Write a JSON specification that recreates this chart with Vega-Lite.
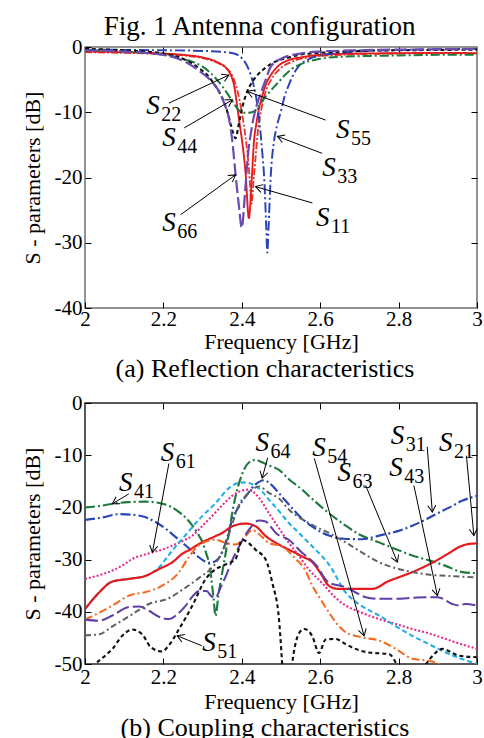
{
"$schema": "https://vega.github.io/schema/vega-lite/v6.json",
"background": "white",
"padding": {"left": 20, "top": 13, "right": 0, "bottom": 0},
"title": {"text": "Fig. 1   Antenna configuration", "fontSize": 27, "font": "Liberation Serif", "fontWeight": "normal", "color": "black", "anchor": "middle", "dx": 8, "offset": -6},
"spacing": 8,
"resolve": {"scale": {"x": "independent", "y": "independent", "color": "independent", "strokeDash": "independent", "strokeWidth": "independent"}},
"datasets": {
"refl": [
{"s":"S11","f":2.0,"db":-0.8},{"s":"S11","f":2.1,"db":-0.9},{"s":"S11","f":2.2,"db":-1.1},{"s":"S11","f":2.25,"db":-1.3},{"s":"S11","f":2.3,"db":-1.7},{"s":"S11","f":2.34,"db":-2.5},{"s":"S11","f":2.36,"db":-3.2},{"s":"S11","f":2.372,"db":-4.0},{"s":"S11","f":2.38,"db":-5.0},{"s":"S11","f":2.39,"db":-7.0},{"s":"S11","f":2.4,"db":-10.0},{"s":"S11","f":2.41,"db":-14.0},{"s":"S11","f":2.418,"db":-18.5},{"s":"S11","f":2.425,"db":-24.0},{"s":"S11","f":2.43,"db":-20.5},{"s":"S11","f":2.435,"db":-17.0},{"s":"S11","f":2.44,"db":-13.5},{"s":"S11","f":2.45,"db":-9.5},{"s":"S11","f":2.46,"db":-7.0},{"s":"S11","f":2.475,"db":-5.0},{"s":"S11","f":2.5,"db":-3.2},{"s":"S11","f":2.53,"db":-2.2},{"s":"S11","f":2.56,"db":-1.7},{"s":"S11","f":2.6,"db":-1.4},{"s":"S11","f":2.7,"db":-1.1},{"s":"S11","f":2.8,"db":-1.0},{"s":"S11","f":2.9,"db":-0.95},{"s":"S11","f":3.0,"db":-1.0},
{"s":"S22","f":2.0,"db":-0.7},{"s":"S22","f":2.1,"db":-0.8},{"s":"S22","f":2.2,"db":-1.0},{"s":"S22","f":2.25,"db":-1.2},{"s":"S22","f":2.3,"db":-1.6},{"s":"S22","f":2.34,"db":-2.4},{"s":"S22","f":2.36,"db":-3.2},{"s":"S22","f":2.372,"db":-4.3},{"s":"S22","f":2.38,"db":-5.8},{"s":"S22","f":2.389,"db":-9.4},{"s":"S22","f":2.395,"db":-12.0},{"s":"S22","f":2.401,"db":-14.5},{"s":"S22","f":2.41,"db":-19.6},{"s":"S22","f":2.418,"db":-26.2},{"s":"S22","f":2.426,"db":-19.6},{"s":"S22","f":2.431,"db":-14.5},{"s":"S22","f":2.437,"db":-11.8},{"s":"S22","f":2.444,"db":-9.4},{"s":"S22","f":2.452,"db":-7.5},{"s":"S22","f":2.461,"db":-5.8},{"s":"S22","f":2.475,"db":-4.2},{"s":"S22","f":2.495,"db":-2.8},{"s":"S22","f":2.52,"db":-2.0},{"s":"S22","f":2.55,"db":-1.6},{"s":"S22","f":2.6,"db":-1.2},{"s":"S22","f":2.7,"db":-1.0},{"s":"S22","f":2.8,"db":-0.95},{"s":"S22","f":2.9,"db":-0.9},{"s":"S22","f":3.0,"db":-0.95},
{"s":"S33","f":2.0,"db":-0.4},{"s":"S33","f":2.1,"db":-0.45},{"s":"S33","f":2.2,"db":-0.5},{"s":"S33","f":2.3,"db":-0.6},{"s":"S33","f":2.35,"db":-0.75},{"s":"S33","f":2.38,"db":-1.0},{"s":"S33","f":2.4,"db":-1.7},{"s":"S33","f":2.41,"db":-2.5},{"s":"S33","f":2.418,"db":-3.5},{"s":"S33","f":2.43,"db":-5.8},{"s":"S33","f":2.44,"db":-9.0},{"s":"S33","f":2.446,"db":-12.0},{"s":"S33","f":2.452,"db":-16.0},{"s":"S33","f":2.458,"db":-21.0},{"s":"S33","f":2.462,"db":-27.0},{"s":"S33","f":2.465,"db":-31.5},{"s":"S33","f":2.468,"db":-28.0},{"s":"S33","f":2.474,"db":-19.6},{"s":"S33","f":2.482,"db":-14.5},{"s":"S33","f":2.49,"db":-12.0},{"s":"S33","f":2.5,"db":-9.8},{"s":"S33","f":2.508,"db":-7.8},{"s":"S33","f":2.52,"db":-5.8},{"s":"S33","f":2.53,"db":-4.4},{"s":"S33","f":2.546,"db":-2.9},{"s":"S33","f":2.57,"db":-1.9},{"s":"S33","f":2.6,"db":-1.3},{"s":"S33","f":2.65,"db":-0.9},{"s":"S33","f":2.7,"db":-0.65},{"s":"S33","f":2.8,"db":-0.45},{"s":"S33","f":2.9,"db":-0.35},{"s":"S33","f":3.0,"db":-0.3},
{"s":"S44","f":2.0,"db":-0.5},{"s":"S44","f":2.1,"db":-0.7},{"s":"S44","f":2.2,"db":-1.2},{"s":"S44","f":2.25,"db":-1.8},{"s":"S44","f":2.28,"db":-2.4},{"s":"S44","f":2.3,"db":-3.0},{"s":"S44","f":2.316,"db":-3.75},{"s":"S44","f":2.335,"db":-4.9},{"s":"S44","f":2.35,"db":-6.0},{"s":"S44","f":2.365,"db":-7.3},{"s":"S44","f":2.376,"db":-8.3},{"s":"S44","f":2.388,"db":-9.4},{"s":"S44","f":2.4,"db":-10.0},{"s":"S44","f":2.413,"db":-10.1},{"s":"S44","f":2.426,"db":-10.0},{"s":"S44","f":2.44,"db":-9.4},{"s":"S44","f":2.452,"db":-8.3},{"s":"S44","f":2.475,"db":-6.6},{"s":"S44","f":2.495,"db":-5.3},{"s":"S44","f":2.51,"db":-4.3},{"s":"S44","f":2.529,"db":-3.3},{"s":"S44","f":2.56,"db":-2.4},{"s":"S44","f":2.6,"db":-1.8},{"s":"S44","f":2.65,"db":-1.5},{"s":"S44","f":2.7,"db":-1.4},{"s":"S44","f":2.8,"db":-1.3},{"s":"S44","f":2.9,"db":-1.2},{"s":"S44","f":3.0,"db":-1.2},
{"s":"S55","f":2.0,"db":-0.3},{"s":"S55","f":2.1,"db":-0.5},{"s":"S55","f":2.2,"db":-1.0},{"s":"S55","f":2.257,"db":-2.0},{"s":"S55","f":2.29,"db":-3.2},{"s":"S55","f":2.315,"db":-4.5},{"s":"S55","f":2.333,"db":-6.0},{"s":"S55","f":2.345,"db":-7.2},{"s":"S55","f":2.355,"db":-8.5},{"s":"S55","f":2.365,"db":-10.3},{"s":"S55","f":2.372,"db":-11.9},{"s":"S55","f":2.378,"db":-13.2},{"s":"S55","f":2.384,"db":-14.0},{"s":"S55","f":2.39,"db":-12.6},{"s":"S55","f":2.397,"db":-10.4},{"s":"S55","f":2.405,"db":-8.4},{"s":"S55","f":2.414,"db":-6.8},{"s":"S55","f":2.425,"db":-5.5},{"s":"S55","f":2.44,"db":-4.3},{"s":"S55","f":2.46,"db":-3.2},{"s":"S55","f":2.487,"db":-2.2},{"s":"S55","f":2.52,"db":-1.6},{"s":"S55","f":2.546,"db":-1.2},{"s":"S55","f":2.6,"db":-0.9},{"s":"S55","f":2.7,"db":-0.6},{"s":"S55","f":2.8,"db":-0.5},{"s":"S55","f":2.9,"db":-0.45},{"s":"S55","f":3.0,"db":-0.4},
{"s":"S66","f":2.0,"db":-0.5},{"s":"S66","f":2.1,"db":-0.7},{"s":"S66","f":2.2,"db":-1.2},{"s":"S66","f":2.257,"db":-2.3},{"s":"S66","f":2.29,"db":-3.6},{"s":"S66","f":2.315,"db":-4.8},{"s":"S66","f":2.333,"db":-6.0},{"s":"S66","f":2.342,"db":-6.8},{"s":"S66","f":2.355,"db":-8.6},{"s":"S66","f":2.367,"db":-10.9},{"s":"S66","f":2.376,"db":-14.5},{"s":"S66","f":2.384,"db":-19.5},{"s":"S66","f":2.392,"db":-24.0},{"s":"S66","f":2.4,"db":-27.7},{"s":"S66","f":2.408,"db":-22.5},{"s":"S66","f":2.415,"db":-17.0},{"s":"S66","f":2.425,"db":-12.5},{"s":"S66","f":2.44,"db":-8.5},{"s":"S66","f":2.45,"db":-6.8},{"s":"S66","f":2.461,"db":-5.0},{"s":"S66","f":2.474,"db":-3.0},{"s":"S66","f":2.5,"db":-1.8},{"s":"S66","f":2.55,"db":-1.0},{"s":"S66","f":2.6,"db":-0.7},{"s":"S66","f":2.7,"db":-0.5},{"s":"S66","f":2.8,"db":-0.4},{"s":"S66","f":2.9,"db":-0.35},{"s":"S66","f":3.0,"db":-0.3}
],
"reflLab": [
{"sym":"S","sub":"22","lx":2.156,"ly":-10.2,"tx":2.214,"ty":-8.6,"hx":2.367,"hy":-4.3},
{"sym":"S","sub":"44","lx":2.197,"ly":-15.2,"tx":2.253,"ty":-12.4,"hx":2.376,"hy":-8.1},
{"sym":"S","sub":"66","lx":2.197,"ly":-28.2,"tx":2.244,"ty":-25.7,"hx":2.384,"hy":-19.6},
{"sym":"S","sub":"11","lx":2.589,"ly":-27.5,"tx":2.58,"ty":-23.9,"hx":2.435,"hy":-21.4},
{"sym":"S","sub":"33","lx":2.605,"ly":-19.8,"tx":2.605,"ty":-16.3,"hx":2.491,"hy":-13.7},
{"sym":"S","sub":"55","lx":2.64,"ly":-14.0,"tx":2.614,"ty":-11.2,"hx":2.414,"hy":-6.8}
],
"coup": [
{"s":"S41","f":2.0,"db":-20.0},{"s":"S41","f":2.04,"db":-19.7},{"s":"S41","f":2.07,"db":-19.3},{"s":"S41","f":2.11,"db":-19.0},{"s":"S41","f":2.155,"db":-18.9},{"s":"S41","f":2.197,"db":-19.3},{"s":"S41","f":2.22,"db":-19.9},{"s":"S41","f":2.24,"db":-20.9},{"s":"S41","f":2.26,"db":-22.2},{"s":"S41","f":2.274,"db":-23.5},{"s":"S41","f":2.29,"db":-25.3},{"s":"S41","f":2.3,"db":-26.7},{"s":"S41","f":2.31,"db":-29.0},{"s":"S41","f":2.316,"db":-30.5},{"s":"S41","f":2.322,"db":-33.5},{"s":"S41","f":2.328,"db":-37.5},{"s":"S41","f":2.333,"db":-40.8},{"s":"S41","f":2.34,"db":-37.0},{"s":"S41","f":2.35,"db":-32.5},{"s":"S41","f":2.359,"db":-28.7},{"s":"S41","f":2.37,"db":-23.5},{"s":"S41","f":2.384,"db":-17.9},{"s":"S41","f":2.4,"db":-13.8},{"s":"S41","f":2.418,"db":-11.4},{"s":"S41","f":2.435,"db":-10.9},{"s":"S41","f":2.45,"db":-11.3},{"s":"S41","f":2.47,"db":-12.0},{"s":"S41","f":2.495,"db":-12.8},{"s":"S41","f":2.52,"db":-14.6},{"s":"S41","f":2.554,"db":-16.6},{"s":"S41","f":2.58,"db":-18.4},{"s":"S41","f":2.622,"db":-21.1},{"s":"S41","f":2.665,"db":-23.5},{"s":"S41","f":2.7,"db":-25.2},{"s":"S41","f":2.75,"db":-26.7},{"s":"S41","f":2.8,"db":-28.2},{"s":"S41","f":2.835,"db":-29.2},{"s":"S41","f":2.88,"db":-30.2},{"s":"S41","f":2.92,"db":-31.2},{"s":"S41","f":2.963,"db":-32.4},{"s":"S41","f":3.0,"db":-32.6},
{"s":"S31","f":2.0,"db":-22.4},{"s":"S31","f":2.04,"db":-22.0},{"s":"S31","f":2.087,"db":-21.3},{"s":"S31","f":2.12,"db":-21.4},{"s":"S31","f":2.155,"db":-21.9},{"s":"S31","f":2.18,"db":-22.8},{"s":"S31","f":2.206,"db":-24.1},{"s":"S31","f":2.23,"db":-25.6},{"s":"S31","f":2.257,"db":-27.3},{"s":"S31","f":2.275,"db":-28.5},{"s":"S31","f":2.291,"db":-29.6},{"s":"S31","f":2.305,"db":-30.3},{"s":"S31","f":2.32,"db":-30.6},{"s":"S31","f":2.333,"db":-30.3},{"s":"S31","f":2.346,"db":-29.2},{"s":"S31","f":2.36,"db":-26.5},{"s":"S31","f":2.376,"db":-22.3},{"s":"S31","f":2.393,"db":-19.8},{"s":"S31","f":2.41,"db":-17.9},{"s":"S31","f":2.435,"db":-15.6},{"s":"S31","f":2.457,"db":-14.8},{"s":"S31","f":2.47,"db":-15.3},{"s":"S31","f":2.487,"db":-16.6},{"s":"S31","f":2.51,"db":-18.6},{"s":"S31","f":2.529,"db":-20.2},{"s":"S31","f":2.546,"db":-21.6},{"s":"S31","f":2.58,"db":-23.7},{"s":"S31","f":2.622,"db":-25.4},{"s":"S31","f":2.66,"db":-26.0},{"s":"S31","f":2.707,"db":-26.1},{"s":"S31","f":2.75,"db":-25.4},{"s":"S31","f":2.8,"db":-24.5},{"s":"S31","f":2.835,"db":-23.5},{"s":"S31","f":2.87,"db":-22.3},{"s":"S31","f":2.895,"db":-21.3},{"s":"S31","f":2.93,"db":-20.0},{"s":"S31","f":2.963,"db":-18.7},{"s":"S31","f":3.0,"db":-17.8},
{"s":"S61","f":2.0,"db":-33.7},{"s":"S61","f":2.04,"db":-32.9},{"s":"S61","f":2.07,"db":-32.1},{"s":"S61","f":2.1,"db":-30.9},{"s":"S61","f":2.12,"db":-29.9},{"s":"S61","f":2.145,"db":-29.2},{"s":"S61","f":2.172,"db":-28.6},{"s":"S61","f":2.2,"db":-28.0},{"s":"S61","f":2.223,"db":-27.3},{"s":"S61","f":2.25,"db":-26.4},{"s":"S61","f":2.274,"db":-25.4},{"s":"S61","f":2.3,"db":-23.5},{"s":"S61","f":2.325,"db":-21.6},{"s":"S61","f":2.35,"db":-19.6},{"s":"S61","f":2.375,"db":-17.8},{"s":"S61","f":2.4,"db":-16.8},{"s":"S61","f":2.418,"db":-16.6},{"s":"S61","f":2.44,"db":-17.8},{"s":"S61","f":2.469,"db":-21.1},{"s":"S61","f":2.495,"db":-24.0},{"s":"S61","f":2.52,"db":-26.8},{"s":"S61","f":2.545,"db":-29.2},{"s":"S61","f":2.571,"db":-31.9},{"s":"S61","f":2.605,"db":-34.5},{"s":"S61","f":2.635,"db":-37.0},{"s":"S61","f":2.665,"db":-38.8},{"s":"S61","f":2.7,"db":-40.0},{"s":"S61","f":2.75,"db":-41.4},{"s":"S61","f":2.8,"db":-42.5},{"s":"S61","f":2.835,"db":-43.3},{"s":"S61","f":2.88,"db":-44.2},{"s":"S61","f":2.92,"db":-45.2},{"s":"S61","f":2.96,"db":-46.2},{"s":"S61","f":3.0,"db":-47.1},
{"s":"S64","f":2.0,"db":-39.5},{"s":"S64","f":2.036,"db":-36.3},{"s":"S64","f":2.07,"db":-34.2},{"s":"S64","f":2.112,"db":-33.7},{"s":"S64","f":2.155,"db":-33.1},{"s":"S64","f":2.189,"db":-31.5},{"s":"S64","f":2.21,"db":-29.5},{"s":"S64","f":2.231,"db":-27.5},{"s":"S64","f":2.26,"db":-25.0},{"s":"S64","f":2.291,"db":-22.3},{"s":"S64","f":2.333,"db":-19.2},{"s":"S64","f":2.367,"db":-16.3},{"s":"S64","f":2.393,"db":-15.3},{"s":"S64","f":2.41,"db":-15.2},{"s":"S64","f":2.427,"db":-15.6},{"s":"S64","f":2.45,"db":-16.8},{"s":"S64","f":2.469,"db":-18.5},{"s":"S64","f":2.495,"db":-20.7},{"s":"S64","f":2.52,"db":-23.0},{"s":"S64","f":2.546,"db":-24.9},{"s":"S64","f":2.571,"db":-26.8},{"s":"S64","f":2.6,"db":-29.0},{"s":"S64","f":2.622,"db":-30.9},{"s":"S64","f":2.665,"db":-36.3},{"s":"S64","f":2.7,"db":-38.6},{"s":"S64","f":2.75,"db":-40.7},{"s":"S64","f":2.8,"db":-43.1},{"s":"S64","f":2.835,"db":-44.6},{"s":"S64","f":2.88,"db":-46.3},{"s":"S64","f":2.92,"db":-47.8},{"s":"S64","f":2.96,"db":-49.0},{"s":"S64","f":3.0,"db":-50.0},
{"s":"S21","f":2.0,"db":-39.5},{"s":"S21","f":2.036,"db":-36.3},{"s":"S21","f":2.07,"db":-34.2},{"s":"S21","f":2.112,"db":-33.7},{"s":"S21","f":2.155,"db":-33.1},{"s":"S21","f":2.189,"db":-31.8},{"s":"S21","f":2.223,"db":-30.5},{"s":"S21","f":2.248,"db":-28.9},{"s":"S21","f":2.265,"db":-28.2},{"s":"S21","f":2.291,"db":-27.0},{"s":"S21","f":2.333,"db":-25.5},{"s":"S21","f":2.35,"db":-24.9},{"s":"S21","f":2.376,"db":-23.6},{"s":"S21","f":2.41,"db":-23.1},{"s":"S21","f":2.435,"db":-23.6},{"s":"S21","f":2.461,"db":-25.5},{"s":"S21","f":2.487,"db":-26.8},{"s":"S21","f":2.52,"db":-28.1},{"s":"S21","f":2.554,"db":-29.4},{"s":"S21","f":2.58,"db":-30.5},{"s":"S21","f":2.6,"db":-32.5},{"s":"S21","f":2.622,"db":-35.0},{"s":"S21","f":2.645,"db":-35.6},{"s":"S21","f":2.665,"db":-35.6},{"s":"S21","f":2.733,"db":-35.6},{"s":"S21","f":2.75,"db":-35.2},{"s":"S21","f":2.767,"db":-34.4},{"s":"S21","f":2.8,"db":-33.4},{"s":"S21","f":2.835,"db":-32.4},{"s":"S21","f":2.87,"db":-31.2},{"s":"S21","f":2.903,"db":-29.9},{"s":"S21","f":2.93,"db":-28.7},{"s":"S21","f":2.954,"db":-27.6},{"s":"S21","f":2.98,"db":-27.0},{"s":"S21","f":3.0,"db":-26.9},
{"s":"S54","f":2.0,"db":-41.5},{"s":"S54","f":2.036,"db":-40.2},{"s":"S54","f":2.07,"db":-38.8},{"s":"S54","f":2.112,"db":-36.9},{"s":"S54","f":2.155,"db":-36.2},{"s":"S54","f":2.197,"db":-35.0},{"s":"S54","f":2.24,"db":-32.4},{"s":"S54","f":2.265,"db":-29.5},{"s":"S54","f":2.291,"db":-27.2},{"s":"S54","f":2.333,"db":-26.2},{"s":"S54","f":2.359,"db":-26.8},{"s":"S54","f":2.384,"db":-27.1},{"s":"S54","f":2.41,"db":-25.5},{"s":"S54","f":2.427,"db":-24.3},{"s":"S54","f":2.44,"db":-24.9},{"s":"S54","f":2.469,"db":-26.8},{"s":"S54","f":2.503,"db":-27.5},{"s":"S54","f":2.538,"db":-29.9},{"s":"S54","f":2.56,"db":-31.8},{"s":"S54","f":2.58,"db":-35.0},{"s":"S54","f":2.6,"db":-37.5},{"s":"S54","f":2.622,"db":-40.1},{"s":"S54","f":2.645,"db":-42.5},{"s":"S54","f":2.665,"db":-43.9},{"s":"S54","f":2.707,"db":-44.9},{"s":"S54","f":2.75,"db":-45.5},{"s":"S54","f":2.793,"db":-47.1},{"s":"S54","f":2.835,"db":-49.0},{"s":"S54","f":2.878,"db":-49.4},{"s":"S54","f":2.92,"db":-50.5},{"s":"S54","f":2.96,"db":-52.0},{"s":"S54","f":3.0,"db":-52.0},
{"s":"S43","f":2.0,"db":-41.5},{"s":"S43","f":2.036,"db":-41.7},{"s":"S43","f":2.07,"db":-40.7},{"s":"S43","f":2.112,"db":-39.1},{"s":"S43","f":2.138,"db":-39.0},{"s":"S43","f":2.163,"db":-39.8},{"s":"S43","f":2.19,"db":-41.0},{"s":"S43","f":2.214,"db":-41.4},{"s":"S43","f":2.235,"db":-40.5},{"s":"S43","f":2.257,"db":-38.8},{"s":"S43","f":2.275,"db":-37.0},{"s":"S43","f":2.291,"db":-36.0},{"s":"S43","f":2.31,"db":-36.0},{"s":"S43","f":2.322,"db":-37.0},{"s":"S43","f":2.333,"db":-37.3},{"s":"S43","f":2.345,"db":-35.5},{"s":"S43","f":2.359,"db":-33.2},{"s":"S43","f":2.375,"db":-30.2},{"s":"S43","f":2.393,"db":-27.5},{"s":"S43","f":2.418,"db":-24.3},{"s":"S43","f":2.444,"db":-22.5},{"s":"S43","f":2.461,"db":-22.7},{"s":"S43","f":2.475,"db":-23.8},{"s":"S43","f":2.487,"db":-24.9},{"s":"S43","f":2.52,"db":-26.2},{"s":"S43","f":2.554,"db":-28.7},{"s":"S43","f":2.589,"db":-31.0},{"s":"S43","f":2.622,"db":-34.4},{"s":"S43","f":2.665,"db":-35.3},{"s":"S43","f":2.69,"db":-36.3},{"s":"S43","f":2.716,"db":-37.2},{"s":"S43","f":2.75,"db":-37.5},{"s":"S43","f":2.793,"db":-37.5},{"s":"S43","f":2.84,"db":-37.3},{"s":"S43","f":2.878,"db":-37.2},{"s":"S43","f":2.9,"db":-37.2},{"s":"S43","f":2.937,"db":-38.5},{"s":"S43","f":2.954,"db":-38.8},{"s":"S43","f":2.97,"db":-38.5},{"s":"S43","f":3.0,"db":-38.8},
{"s":"S63","f":2.0,"db":-44.5},{"s":"S63","f":2.036,"db":-44.3},{"s":"S63","f":2.07,"db":-42.8},{"s":"S63","f":2.12,"db":-40.5},{"s":"S63","f":2.163,"db":-38.5},{"s":"S63","f":2.214,"db":-37.4},{"s":"S63","f":2.248,"db":-35.8},{"s":"S63","f":2.291,"db":-33.5},{"s":"S63","f":2.33,"db":-31.0},{"s":"S63","f":2.35,"db":-28.5},{"s":"S63","f":2.37,"db":-24.5},{"s":"S63","f":2.39,"db":-20.0},{"s":"S63","f":2.418,"db":-17.2},{"s":"S63","f":2.444,"db":-16.0},{"s":"S63","f":2.469,"db":-17.2},{"s":"S63","f":2.495,"db":-18.3},{"s":"S63","f":2.52,"db":-20.4},{"s":"S63","f":2.571,"db":-23.0},{"s":"S63","f":2.622,"db":-24.9},{"s":"S63","f":2.665,"db":-26.7},{"s":"S63","f":2.71,"db":-28.8},{"s":"S63","f":2.75,"db":-30.5},{"s":"S63","f":2.8,"db":-31.8},{"s":"S63","f":2.835,"db":-32.4},{"s":"S63","f":2.88,"db":-32.9},{"s":"S63","f":2.92,"db":-33.1},{"s":"S63","f":3.0,"db":-33.4},
{"s":"S51","f":2.0,"db":-53.0},{"s":"S51","f":2.027,"db":-50.0},{"s":"S51","f":2.05,"db":-48.5},{"s":"S51","f":2.07,"db":-47.1},{"s":"S51","f":2.095,"db":-44.6},{"s":"S51","f":2.12,"db":-43.4},{"s":"S51","f":2.146,"db":-44.3},{"s":"S51","f":2.168,"db":-46.8},{"s":"S51","f":2.197,"db":-47.6},{"s":"S51","f":2.21,"db":-46.8},{"s":"S51","f":2.24,"db":-43.3},{"s":"S51","f":2.274,"db":-38.8},{"s":"S51","f":2.308,"db":-33.7},{"s":"S51","f":2.33,"db":-32.0},{"s":"S51","f":2.35,"db":-31.2},{"s":"S51","f":2.384,"db":-29.9},{"s":"S51","f":2.401,"db":-26.2},{"s":"S51","f":2.415,"db":-26.7},{"s":"S51","f":2.435,"db":-28.1},{"s":"S51","f":2.461,"db":-30.0},{"s":"S51","f":2.478,"db":-34.5},{"s":"S51","f":2.495,"db":-41.5},{"s":"S51","f":2.505,"db":-52.0},{"s":"S51","f":2.515,"db":-60.0},{"s":"S51","f":2.525,"db":-52.0},{"s":"S51","f":2.546,"db":-44.1},{"s":"S51","f":2.559,"db":-43.3},{"s":"S51","f":2.58,"db":-44.7},{"s":"S51","f":2.597,"db":-47.9},{"s":"S51","f":2.614,"db":-45.3},{"s":"S51","f":2.639,"db":-45.2},{"s":"S51","f":2.665,"db":-46.2},{"s":"S51","f":2.69,"db":-47.1},{"s":"S51","f":2.724,"db":-47.8},{"s":"S51","f":2.776,"db":-48.1},{"s":"S51","f":2.8,"db":-50.5},{"s":"S51","f":2.83,"db":-52.0},{"s":"S51","f":2.86,"db":-51.0},{"s":"S51","f":2.88,"db":-49.0},{"s":"S51","f":2.912,"db":-47.1},{"s":"S51","f":2.935,"db":-47.8},{"s":"S51","f":2.954,"db":-48.4},{"s":"S51","f":3.0,"db":-48.7}
],
"coupLab": [
{"sym":"S","sub":"41","lx":2.087,"ly":-16.8,"tx":2.112,"ty":-17.4,"hx":2.07,"hy":-19.3},
{"sym":"S","sub":"61","lx":2.193,"ly":-11.05,"tx":2.214,"ty":-11.6,"hx":2.172,"hy":-28.6},
{"sym":"S","sub":"51","lx":2.299,"ly":-47.5,"tx":2.298,"ty":-46.5,"hx":2.235,"hy":-44.6},
{"sym":"S","sub":"64","lx":2.435,"ly":-9.25,"tx":2.466,"ty":-10.5,"hx":2.452,"hy":-14.4},
{"sym":"S","sub":"54","lx":2.58,"ly":-10.1,"tx":2.585,"ty":-10.6,"hx":2.712,"hy":-44.6},
{"sym":"S","sub":"63","lx":2.644,"ly":-14.9,"tx":2.716,"ty":-15.8,"hx":2.797,"hy":-30.5},
{"sym":"S","sub":"31","lx":2.78,"ly":-7.85,"tx":2.873,"ty":-8.4,"hx":2.886,"hy":-20.9},
{"sym":"S","sub":"21","lx":2.903,"ly":-9.1,"tx":2.973,"ty":-10.1,"hx":2.992,"hy":-25.4},
{"sym":"S","sub":"43","lx":2.776,"ly":-13.9,"tx":2.839,"ty":-15.8,"hx":2.899,"hy":-36.9}
]
},
"vconcat": [
{
"width": 392, "height": 261,
"view": {"stroke": "#707070", "strokeWidth": 1.5},
"title": {"text": "(a)   Reflection characteristics", "orient": "bottom", "fontSize": 26, "font": "Liberation Serif", "fontWeight": "normal", "color": "black", "anchor": "middle", "dx": -16, "offset": 4},
"resolve": {"axis": {"x": "independent", "y": "independent"}},
"layer": [
{"data": {"name": "refl"},
 "mark": {"type": "line", "interpolate": "monotone", "clip": true},
 "encoding": {
  "x": {"field": "f", "type": "quantitative", "scale": {"domain": [2, 3], "nice": false, "zero": false},
        "axis": {"orient": "bottom", "values": [2, 2.2, 2.4, 2.6, 2.8, 3], "format": "~g", "title": "Frequency [GHz]", "tickSize": -6, "labelPadding": 6, "titlePadding": 2}},
  "y": {"field": "db", "type": "quantitative", "scale": {"domain": [-40, 0], "nice": false, "zero": false},
        "axis": {"orient": "left", "values": [-40, -30, -20, -10, 0], "labelExpr": "datum.value < 0 ? '-' + abs(datum.value) : '' + datum.value", "title": "S - parameters [dB]", "tickSize": -6, "labelPadding": 9, "titlePadding": 10}},
  "color": {"field": "s", "type": "nominal", "legend": null, "scale": {"domain": ["S11","S22","S33","S44","S55","S66"], "range": ["#e8322a","#e41a1c","#2b44b5","#1e7a3c","#111111","#6a4bb0"]}},
  "strokeDash": {"field": "s", "type": "nominal", "legend": null, "scale": {"domain": ["S11","S22","S33","S44","S55","S66"], "range": [[7,2,2,2],[1,0],[10,3,2,3],[9,3,2,3],[4,3],[13,4]]}},
  "strokeWidth": {"field": "s", "type": "nominal", "legend": null, "scale": {"domain": ["S11","S22","S33","S44","S55","S66"], "range": [1.8,2.2,1.8,1.8,1.8,1.8]}}
 }},
{"data": {"name": "reflLab"},
 "mark": {"type": "rule", "color": "black", "strokeWidth": 1},
 "encoding": {
  "x": {"field": "tx", "type": "quantitative", "axis": {"orient": "top", "values": [2.2, 2.4, 2.6, 2.8], "labels": false, "title": null, "tickSize": -6}},
  "y": {"field": "ty", "type": "quantitative", "axis": {"orient": "right", "values": [-30, -20, -10], "labels": false, "title": null, "tickSize": -6}},
  "x2": {"field": "hx"}, "y2": {"field": "hy"}
 }},
{"data": {"name": "reflLab"},
 "transform": [{"calculate": "atan2((datum.hx - datum.tx) * 392, (datum.hy - datum.ty) * 6.525) * 180 / PI", "as": "ang"}],
 "mark": {"type": "point", "shape": "M-0.6,1L0,0L0.6,1", "filled": false, "stroke": "black", "strokeWidth": 1, "size": 180, "opacity": 1},
 "encoding": {
  "x": {"field": "hx", "type": "quantitative", "axis": null},
  "y": {"field": "hy", "type": "quantitative", "axis": null},
  "angle": {"field": "ang", "type": "quantitative", "scale": null}
 }},
{"data": {"name": "reflLab"},
 "mark": {"type": "text", "font": "Liberation Serif", "fontStyle": "italic", "fontSize": 27, "align": "left", "baseline": "alphabetic", "color": "black"},
 "encoding": {
  "x": {"field": "lx", "type": "quantitative", "axis": null},
  "y": {"field": "ly", "type": "quantitative", "axis": null},
  "text": {"field": "sym"}
 }},
{"data": {"name": "reflLab"},
 "mark": {"type": "text", "font": "Liberation Serif", "fontSize": 20, "align": "left", "baseline": "alphabetic", "dx": 15, "dy": 7, "color": "black"},
 "encoding": {
  "x": {"field": "lx", "type": "quantitative", "axis": null},
  "y": {"field": "ly", "type": "quantitative", "axis": null},
  "text": {"field": "sub"}
 }}
]
},
{
"width": 392, "height": 261,
"view": {"stroke": "#222222", "strokeWidth": 1.5},
"title": {"text": "(b) Coupling characteristics", "orient": "bottom", "fontSize": 26, "font": "Liberation Serif", "fontWeight": "normal", "color": "black", "anchor": "middle", "dx": -16, "offset": 3},
"resolve": {"axis": {"x": "independent", "y": "independent"}},
"layer": [
{"data": {"name": "coup"},
 "mark": {"type": "line", "interpolate": "monotone", "clip": true},
 "encoding": {
  "x": {"field": "f", "type": "quantitative", "scale": {"domain": [2, 3], "nice": false, "zero": false},
        "axis": {"orient": "bottom", "values": [2, 2.2, 2.4, 2.6, 2.8, 3], "format": "~g", "title": "Frequency [GHz]", "tickSize": -6, "labelPadding": 8, "titlePadding": 4}},
  "y": {"field": "db", "type": "quantitative", "scale": {"domain": [-50, 0], "nice": false, "zero": false},
        "axis": {"orient": "left", "values": [-50, -40, -30, -20, -10, 0], "labelExpr": "datum.value < 0 ? '-' + abs(datum.value) : '' + datum.value", "title": "S - parameters [dB]", "tickSize": -6, "labelPadding": 9, "titlePadding": 10}},
  "color": {"field": "s", "type": "nominal", "legend": null, "scale": {"domain": ["S21","S31","S41","S51","S61","S64","S54","S43","S63"], "range": ["#e41a1c","#2846b8","#1e7a3c","#111111","#e8288a","#22aee8","#f26a22","#5e3fa5","#606060"]}},
  "strokeDash": {"field": "s", "type": "nominal", "legend": null, "scale": {"domain": ["S21","S31","S41","S51","S61","S64","S54","S43","S63"], "range": [[1,0],[10,3,2,3],[10,3,2,3],[4,3],[2,2],[5,3],[8,3,2,3],[13,4],[6,3,2,3]]}},
  "strokeWidth": {"field": "s", "type": "nominal", "legend": null, "scale": {"domain": ["S21","S31","S41","S51","S61","S64","S54","S43","S63"], "range": [2.2,2,1.8,1.6,1.8,1.8,1.8,2,1.8]}}
 }},
{"data": {"name": "coupLab"},
 "mark": {"type": "rule", "color": "black", "strokeWidth": 1},
 "encoding": {
  "x": {"field": "tx", "type": "quantitative", "axis": {"orient": "top", "values": [2.2, 2.4, 2.6, 2.8], "labels": false, "title": null, "tickSize": -6}},
  "y": {"field": "ty", "type": "quantitative", "axis": {"orient": "right", "values": [-40, -30, -20, -10], "labels": false, "title": null, "tickSize": -6}},
  "x2": {"field": "hx"}, "y2": {"field": "hy"}
 }},
{"data": {"name": "coupLab"},
 "transform": [{"calculate": "atan2((datum.hx - datum.tx) * 392, (datum.hy - datum.ty) * 5.22) * 180 / PI", "as": "ang"}],
 "mark": {"type": "point", "shape": "M-0.6,1L0,0L0.6,1", "filled": false, "stroke": "black", "strokeWidth": 1, "size": 180, "opacity": 1},
 "encoding": {
  "x": {"field": "hx", "type": "quantitative", "axis": null},
  "y": {"field": "hy", "type": "quantitative", "axis": null},
  "angle": {"field": "ang", "type": "quantitative", "scale": null}
 }},
{"data": {"name": "coupLab"},
 "mark": {"type": "text", "font": "Liberation Serif", "fontStyle": "italic", "fontSize": 27, "align": "left", "baseline": "alphabetic", "color": "black"},
 "encoding": {
  "x": {"field": "lx", "type": "quantitative", "axis": null},
  "y": {"field": "ly", "type": "quantitative", "axis": null},
  "text": {"field": "sym"}
 }},
{"data": {"name": "coupLab"},
 "mark": {"type": "text", "font": "Liberation Serif", "fontSize": 20, "align": "left", "baseline": "alphabetic", "dx": 15, "dy": 7, "color": "black"},
 "encoding": {
  "x": {"field": "lx", "type": "quantitative", "axis": null},
  "y": {"field": "ly", "type": "quantitative", "axis": null},
  "text": {"field": "sub"}
 }}
]
}
],
"config": {
 "font": "Liberation Serif",
 "text": {"font": "Liberation Serif"},
 "title": {"font": "Liberation Serif", "fontWeight": "normal"},
 "axis": {"labelFont": "Liberation Serif", "labelFontSize": 21, "labelColor": "black", "titleFont": "Liberation Serif", "titleFontSize": 22, "titleFontWeight": "normal", "titleColor": "black", "tickColor": "black", "tickWidth": 1, "grid": false, "domain": false, "labelFlush": false, "labelBound": false, "labelOverlap": false}
}
}
